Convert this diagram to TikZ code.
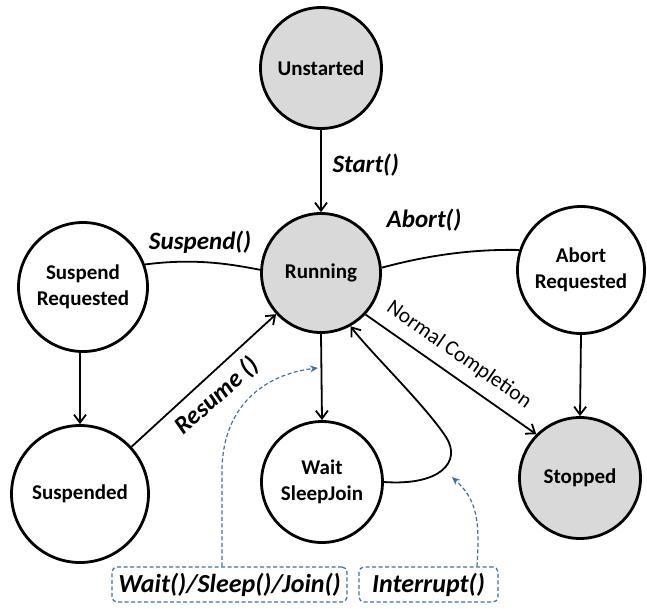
\documentclass[tikz,border=0pt]{standalone}
\usepackage{fontspec}
\setmainfont{Carlito}
\usetikzlibrary{arrows.meta,calc}
\definecolor{stategray}{HTML}{D9D9D9}
\definecolor{noteblue}{RGB}{65,113,156}
\begin{document}
\begin{tikzpicture}[x=1pt,y=-1pt,
  state/.style={circle,draw=black,line width=2.8pt,fill=white,inner sep=0pt,
    align=center,font=\fontsize{21}{26}\selectfont\bfseries},
  grayed/.style={fill=stategray},
  trans/.style={line width=1.8pt,-{Straight Barb[length=8pt,width=12pt,line width=1.8pt]}},
  link/.style={line width=1.8pt},
  call/.style={font=\fontsize{25}{29}\selectfont\bfseries\itshape},
  notebox/.style={draw=noteblue,line width=1.2pt,dash pattern=on 4pt off 2.5pt,
    rounded corners=5pt,minimum height=35pt,inner sep=0pt,
    font=\fontsize{26}{30}\selectfont\bfseries\itshape},
  notearrow/.style={draw=noteblue,line width=1.2pt,dash pattern=on 4pt off 2.5pt,
    -{Stealth[length=8pt,width=7pt,fill=noteblue]}}
]
\useasboundingbox (0,0) rectangle (647,608);

% states
\node[state,grayed,minimum size=121pt] (uns)  at (321,68)  {Unstarted};
\node[state,grayed,minimum size=119pt] (run)  at (321,273) {Running};
\node[state,minimum size=129pt]        (sreq) at (83,287)  {Suspend\\Requested};
\node[state,minimum size=127pt]        (areq) at (581,270) {Abort\\Requested};
\node[state,minimum size=137pt]        (susp) at (80,494)  {Suspended};
\node[state,minimum size=121pt]        (wsj)  at (322,482) {Wait\\SleepJoin};
\node[state,grayed,minimum size=121pt] (stop) at (580,478) {Stopped};

% transitions
\draw[trans] (uns.south) -- (run.north);
\node[call,anchor=west] (lstart) at (329,165) {Start()};

\draw[link] (sreq.20) .. controls (195,258) and (230,264) .. (run.177);
\node[call] (lsusp) at (200,242) {Suspend()};

\draw[link] (run.5) .. controls (425,256) and (470,249) .. (areq.162);
\node[call] (labort) at (424,220) {Abort()};

\draw[trans] (sreq.south -| susp.north) -- (susp.north);

\draw[trans] (susp) -- (run);
\node[call,rotate=42] (lres) at (217,396) {Resume ()};

\draw[trans] (run.south) -- (wsj.north);

\draw[trans] (wsj.east) .. controls (440,486) and (462,462) .. (446,437)
  .. controls (425,405) and (370,352) .. (run.-61);

\draw[trans] (run.-43) -- (stop.135);
\node[font=\fontsize{21.5}{25}\selectfont,rotate=-35] (lnorm) at (459,355) {Normal Completion};

\draw[trans] (areq.south) -- (stop.north);

% method notes
\node[notebox,minimum width=235pt] (wbox) at (229.5,584.5) {Wait()/Sleep()/Join()};
\node[notebox,minimum width=139pt] (ibox) at (428.5,584.5) {Interrupt()};
\coordinate (wtgt) at (318,368);
\coordinate (itgt) at (452,477);
\draw[notearrow] ([xshift=-7.5pt]wbox.north) -- ++(0,-95)
  .. controls (222,405) and (266,374) .. (wtgt);
\draw[notearrow] ([xshift=48.5pt]ibox.north) .. controls (480,520) and (477,500) .. (itgt);
\end{tikzpicture}
\end{document}
